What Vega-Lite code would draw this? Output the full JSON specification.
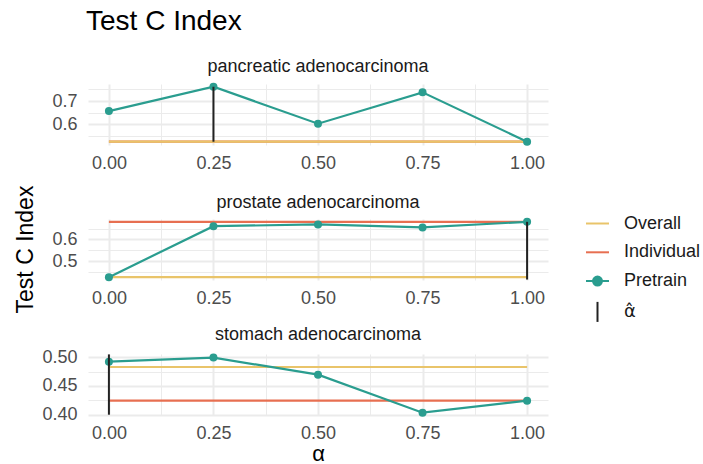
{
  "$schema": "https://vega.github.io/schema/vega-lite/v6.json",
  "background": "white",
  "padding": {"left": 14, "top": 8, "right": 5, "bottom": 0},
  "title": {"text": "Test C Index", "anchor": "start", "fontSize": 28, "fontWeight": "normal", "font": "Liberation Sans", "color": "#000000", "baseline": "alphabetic", "offset": 0, "dx": 72},
  "datasets": {
    "scores": [
      {"cancer": "pancreatic adenocarcinoma", "method": "Individual", "alpha": 0.0, "value": 0.526},
      {"cancer": "pancreatic adenocarcinoma", "method": "Individual", "alpha": 0.25, "value": 0.526},
      {"cancer": "pancreatic adenocarcinoma", "method": "Individual", "alpha": 0.5, "value": 0.526},
      {"cancer": "pancreatic adenocarcinoma", "method": "Individual", "alpha": 0.75, "value": 0.526},
      {"cancer": "pancreatic adenocarcinoma", "method": "Individual", "alpha": 1.0, "value": 0.526},
      {"cancer": "pancreatic adenocarcinoma", "method": "Overall", "alpha": 0.0, "value": 0.526},
      {"cancer": "pancreatic adenocarcinoma", "method": "Overall", "alpha": 0.25, "value": 0.526},
      {"cancer": "pancreatic adenocarcinoma", "method": "Overall", "alpha": 0.5, "value": 0.526},
      {"cancer": "pancreatic adenocarcinoma", "method": "Overall", "alpha": 0.75, "value": 0.526},
      {"cancer": "pancreatic adenocarcinoma", "method": "Overall", "alpha": 1.0, "value": 0.526},
      {"cancer": "pancreatic adenocarcinoma", "method": "Pretrain", "alpha": 0.0, "value": 0.657},
      {"cancer": "pancreatic adenocarcinoma", "method": "Pretrain", "alpha": 0.25, "value": 0.761},
      {"cancer": "pancreatic adenocarcinoma", "method": "Pretrain", "alpha": 0.5, "value": 0.603},
      {"cancer": "pancreatic adenocarcinoma", "method": "Pretrain", "alpha": 0.75, "value": 0.737},
      {"cancer": "pancreatic adenocarcinoma", "method": "Pretrain", "alpha": 1.0, "value": 0.526},
      {"cancer": "prostate adenocarcinoma", "method": "Individual", "alpha": 0.0, "value": 0.681},
      {"cancer": "prostate adenocarcinoma", "method": "Individual", "alpha": 0.25, "value": 0.681},
      {"cancer": "prostate adenocarcinoma", "method": "Individual", "alpha": 0.5, "value": 0.681},
      {"cancer": "prostate adenocarcinoma", "method": "Individual", "alpha": 0.75, "value": 0.681},
      {"cancer": "prostate adenocarcinoma", "method": "Individual", "alpha": 1.0, "value": 0.681},
      {"cancer": "prostate adenocarcinoma", "method": "Overall", "alpha": 0.0, "value": 0.426},
      {"cancer": "prostate adenocarcinoma", "method": "Overall", "alpha": 0.25, "value": 0.426},
      {"cancer": "prostate adenocarcinoma", "method": "Overall", "alpha": 0.5, "value": 0.426},
      {"cancer": "prostate adenocarcinoma", "method": "Overall", "alpha": 0.75, "value": 0.426},
      {"cancer": "prostate adenocarcinoma", "method": "Overall", "alpha": 1.0, "value": 0.426},
      {"cancer": "prostate adenocarcinoma", "method": "Pretrain", "alpha": 0.0, "value": 0.426},
      {"cancer": "prostate adenocarcinoma", "method": "Pretrain", "alpha": 0.25, "value": 0.661},
      {"cancer": "prostate adenocarcinoma", "method": "Pretrain", "alpha": 0.5, "value": 0.669},
      {"cancer": "prostate adenocarcinoma", "method": "Pretrain", "alpha": 0.75, "value": 0.655},
      {"cancer": "prostate adenocarcinoma", "method": "Pretrain", "alpha": 1.0, "value": 0.681},
      {"cancer": "stomach adenocarcinoma", "method": "Individual", "alpha": 0.0, "value": 0.4244},
      {"cancer": "stomach adenocarcinoma", "method": "Individual", "alpha": 0.25, "value": 0.4244},
      {"cancer": "stomach adenocarcinoma", "method": "Individual", "alpha": 0.5, "value": 0.4244},
      {"cancer": "stomach adenocarcinoma", "method": "Individual", "alpha": 0.75, "value": 0.4244},
      {"cancer": "stomach adenocarcinoma", "method": "Individual", "alpha": 1.0, "value": 0.4244},
      {"cancer": "stomach adenocarcinoma", "method": "Overall", "alpha": 0.0, "value": 0.4831},
      {"cancer": "stomach adenocarcinoma", "method": "Overall", "alpha": 0.25, "value": 0.4831},
      {"cancer": "stomach adenocarcinoma", "method": "Overall", "alpha": 0.5, "value": 0.4831},
      {"cancer": "stomach adenocarcinoma", "method": "Overall", "alpha": 0.75, "value": 0.4831},
      {"cancer": "stomach adenocarcinoma", "method": "Overall", "alpha": 1.0, "value": 0.4831},
      {"cancer": "stomach adenocarcinoma", "method": "Pretrain", "alpha": 0.0, "value": 0.4923},
      {"cancer": "stomach adenocarcinoma", "method": "Pretrain", "alpha": 0.25, "value": 0.4995},
      {"cancer": "stomach adenocarcinoma", "method": "Pretrain", "alpha": 0.5, "value": 0.4697},
      {"cancer": "stomach adenocarcinoma", "method": "Pretrain", "alpha": 0.75, "value": 0.4035},
      {"cancer": "stomach adenocarcinoma", "method": "Pretrain", "alpha": 1.0, "value": 0.4244}
    ],
    "ahat": [
      {"cancer": "pancreatic adenocarcinoma", "method": "α̂", "alpha": 0.25, "ymin": 0.526, "ymax": 0.761},
      {"cancer": "prostate adenocarcinoma", "method": "α̂", "alpha": 1.0, "ymin": 0.415, "ymax": 0.681},
      {"cancer": "stomach adenocarcinoma", "method": "α̂", "alpha": 0.0, "ymin": 0.400, "ymax": 0.505}
    ]
  },
  "vconcat": [
    {
      "width": 460, "height": 61,
      "title": {"text": "pancreatic adenocarcinoma", "offset": 4},
      "encoding": {
        "x": {"field": "alpha", "type": "quantitative", "scale": {"domain": [-0.05, 1.05], "nice": false, "zero": false},
              "axis": {"title": null, "tickCount": 20, "values": [0, 0.125, 0.25, 0.375, 0.5, 0.625, 0.75, 0.875, 1],
                       "labelExpr": "abs(datum.value*4-round(datum.value*4))<1e-6 ? format(datum.value,'.2f') : ''",
                       "gridWidth": {"condition": {"test": "abs(datum.value*4-round(datum.value*4))<1e-6", "value": 2}, "value": 1}}},
        "color": {"field": "method", "type": "nominal",
                  "scale": {"domain": ["Overall", "Individual", "Pretrain", "α̂"], "range": ["#e9c46a", "#e76f51", "#2a9d8f", "#222222"]},
                  "legend": {"title": null, "orient": "none", "legendX": 497, "legendY": 127, "labelFontSize": 18, "labelColor": "#1a1a1a", "labelFont": "Liberation Sans",
                             "symbolSize": 529, "symbolStrokeWidth": 2, "rowPadding": 6.8, "labelOffset": 14,
                             "encode": {
                               "symbols": {"update": {
                                 "shape": {"signal": "datum.value === 'α̂' ? 'M0,-0.87V0.87' : (datum.value === 'Pretrain' ? 'M-1,0H1M-0.39,0A0.39,0.39,0,1,0,0.39,0A0.39,0.39,0,1,0,-0.39,0Z' : 'M-1,0H1')"},
                                 "fill": {"signal": "datum.value === 'Pretrain' ? '#2a9d8f' : 'transparent'"}}},
                               "labels": {"update": {"font": {"signal": "datum.value === 'α̂' ? 'DejaVu Sans' : 'Liberation Sans'"}}}}}}
      },
      "layer": [
        {"data": {"name": "scores"}, "transform": [{"filter": "datum.cancer === 'pancreatic adenocarcinoma' && datum.method === 'Individual'"}],
         "mark": {"type": "line", "strokeWidth": 2.2},
         "encoding": {"y": {"field": "value", "type": "quantitative", "scale": {"domain": [0.512, 0.7727], "nice": false, "zero": false},
                            "axis": {"title": null, "tickCount": 20, "values": [0.55, 0.6, 0.65, 0.7, 0.75],
                                     "labelExpr": "abs(datum.value*10-round(datum.value*10))<1e-6 ? format(datum.value,'.1f') : ''",
                                     "gridWidth": {"condition": {"test": "abs(datum.value*10-round(datum.value*10))<1e-6", "value": 2}, "value": 1}}}}},
        {"data": {"name": "scores"}, "transform": [{"filter": "datum.cancer === 'pancreatic adenocarcinoma' && datum.method === 'Overall'"}],
         "mark": {"type": "line", "strokeWidth": 2.2},
         "encoding": {"y": {"field": "value", "type": "quantitative"}}},
        {"data": {"name": "scores"}, "transform": [{"filter": "datum.cancer === 'pancreatic adenocarcinoma' && datum.method === 'Pretrain'"}],
         "mark": {"type": "line", "strokeWidth": 2.2},
         "encoding": {"y": {"field": "value", "type": "quantitative"}}},
        {"data": {"name": "scores"}, "transform": [{"filter": "datum.cancer === 'pancreatic adenocarcinoma' && datum.method === 'Pretrain'"}],
         "mark": {"type": "point", "filled": true, "size": 64, "opacity": 1},
         "encoding": {"y": {"field": "value", "type": "quantitative"}}},
        {"data": {"name": "ahat"}, "transform": [{"filter": "datum.cancer === 'pancreatic adenocarcinoma'"}],
         "mark": {"type": "rule", "strokeWidth": 2},
         "encoding": {"y": {"field": "ymin", "type": "quantitative"}, "y2": {"field": "ymax"}}}
      ]
    },
    {
      "width": 460, "height": 61,
      "title": {"text": "prostate adenocarcinoma", "offset": -27},
      "encoding": {
        "x": {"field": "alpha", "type": "quantitative", "scale": {"domain": [-0.05, 1.05], "nice": false, "zero": false},
              "axis": {"title": null, "tickCount": 20, "values": [0, 0.125, 0.25, 0.375, 0.5, 0.625, 0.75, 0.875, 1],
                       "labelExpr": "abs(datum.value*4-round(datum.value*4))<1e-6 ? format(datum.value,'.2f') : ''",
                       "gridWidth": {"condition": {"test": "abs(datum.value*4-round(datum.value*4))<1e-6", "value": 2}, "value": 1}}},
        "color": {"field": "method", "type": "nominal",
                  "scale": {"domain": ["Overall", "Individual", "Pretrain", "α̂"], "range": ["#e9c46a", "#e76f51", "#2a9d8f", "#222222"]}}
      },
      "layer": [
        {"data": {"name": "scores"}, "transform": [{"filter": "datum.cancer === 'prostate adenocarcinoma' && datum.method === 'Individual'"}],
         "mark": {"type": "line", "strokeWidth": 2.2},
         "encoding": {"y": {"field": "value", "type": "quantitative", "scale": {"domain": [0.4129, 0.694], "nice": false, "zero": false},
                            "axis": {"title": "Test C Index", "titleFontSize": 23, "titleFontWeight": "normal", "titleColor": "#000000", "titleFont": "Liberation Sans",
                                     "titleX": -56, "titleY": 30, "titleAngle": -90, "titleBaseline": "alphabetic", "titleAlign": "center",
                                     "tickCount": 20, "values": [0.45, 0.5, 0.55, 0.6, 0.65],
                                     "labelExpr": "abs(datum.value*10-round(datum.value*10))<1e-6 ? format(datum.value,'.1f') : ''",
                                     "gridWidth": {"condition": {"test": "abs(datum.value*10-round(datum.value*10))<1e-6", "value": 2}, "value": 1}}}}},
        {"data": {"name": "scores"}, "transform": [{"filter": "datum.cancer === 'prostate adenocarcinoma' && datum.method === 'Overall'"}],
         "mark": {"type": "line", "strokeWidth": 2.2},
         "encoding": {"y": {"field": "value", "type": "quantitative"}}},
        {"data": {"name": "scores"}, "transform": [{"filter": "datum.cancer === 'prostate adenocarcinoma' && datum.method === 'Pretrain'"}],
         "mark": {"type": "line", "strokeWidth": 2.2},
         "encoding": {"y": {"field": "value", "type": "quantitative"}}},
        {"data": {"name": "scores"}, "transform": [{"filter": "datum.cancer === 'prostate adenocarcinoma' && datum.method === 'Pretrain'"}],
         "mark": {"type": "point", "filled": true, "size": 64, "opacity": 1},
         "encoding": {"y": {"field": "value", "type": "quantitative"}}},
        {"data": {"name": "ahat"}, "transform": [{"filter": "datum.cancer === 'prostate adenocarcinoma'"}],
         "mark": {"type": "rule", "strokeWidth": 2},
         "encoding": {"y": {"field": "ymin", "type": "quantitative"}, "y2": {"field": "ymax"}}}
      ]
    },
    {
      "width": 460, "height": 61,
      "title": {"text": "stomach adenocarcinoma", "offset": 4},
      "encoding": {
        "x": {"field": "alpha", "type": "quantitative", "scale": {"domain": [-0.05, 1.05], "nice": false, "zero": false},
              "axis": {"title": "α", "titleFontSize": 22, "titleFontWeight": "normal", "titleColor": "#000000", "titleFont": "Liberation Sans", "titlePadding": 1,
                       "tickCount": 20, "values": [0, 0.125, 0.25, 0.375, 0.5, 0.625, 0.75, 0.875, 1],
                       "labelExpr": "abs(datum.value*4-round(datum.value*4))<1e-6 ? format(datum.value,'.2f') : ''",
                       "gridWidth": {"condition": {"test": "abs(datum.value*4-round(datum.value*4))<1e-6", "value": 2}, "value": 1}}},
        "color": {"field": "method", "type": "nominal",
                  "scale": {"domain": ["Overall", "Individual", "Pretrain", "α̂"], "range": ["#e9c46a", "#e76f51", "#2a9d8f", "#222222"]}}
      },
      "layer": [
        {"data": {"name": "scores"}, "transform": [{"filter": "datum.cancer === 'stomach adenocarcinoma' && datum.method === 'Individual'"}],
         "mark": {"type": "line", "strokeWidth": 2.2},
         "encoding": {"y": {"field": "value", "type": "quantitative", "scale": {"domain": [0.3995, 0.5057], "nice": false, "zero": false},
                            "axis": {"title": null, "tickCount": 20, "values": [0.4, 0.425, 0.45, 0.475, 0.5],
                                     "labelExpr": "abs(datum.value*20-round(datum.value*20))<1e-6 ? format(datum.value,'.2f') : ''",
                                     "gridWidth": {"condition": {"test": "abs(datum.value*20-round(datum.value*20))<1e-6", "value": 2}, "value": 1}}}}},
        {"data": {"name": "scores"}, "transform": [{"filter": "datum.cancer === 'stomach adenocarcinoma' && datum.method === 'Overall'"}],
         "mark": {"type": "line", "strokeWidth": 2.2},
         "encoding": {"y": {"field": "value", "type": "quantitative"}}},
        {"data": {"name": "scores"}, "transform": [{"filter": "datum.cancer === 'stomach adenocarcinoma' && datum.method === 'Pretrain'"}],
         "mark": {"type": "line", "strokeWidth": 2.2},
         "encoding": {"y": {"field": "value", "type": "quantitative"}}},
        {"data": {"name": "scores"}, "transform": [{"filter": "datum.cancer === 'stomach adenocarcinoma' && datum.method === 'Pretrain'"}],
         "mark": {"type": "point", "filled": true, "size": 64, "opacity": 1},
         "encoding": {"y": {"field": "value", "type": "quantitative"}}},
        {"data": {"name": "ahat"}, "transform": [{"filter": "datum.cancer === 'stomach adenocarcinoma'"}],
         "mark": {"type": "rule", "strokeWidth": 2},
         "encoding": {"y": {"field": "ymin", "type": "quantitative"}, "y2": {"field": "ymax"}}}
      ]
    }
  ],
  "spacing": 13,
  "resolve": {"scale": {"y": "independent", "x": "independent", "color": "shared"}},
  "config": {
    "font": "Liberation Sans",
    "view": {"stroke": null},
    "title": {"fontSize": 18, "fontWeight": "normal", "color": "#1a1a1a", "anchor": "middle", "baseline": "alphabetic", "font": "Liberation Sans"},
    "axis": {"ticks": false, "domain": false, "labelFontSize": 18, "labelColor": "#4d4d4d", "labelFont": "Liberation Sans", "gridColor": "#ebebeb", "labelOverlap": false, "labelFlush": false},
    "axisX": {"labelPadding": 9},
    "axisY": {"labelPadding": 11}
  }
}
